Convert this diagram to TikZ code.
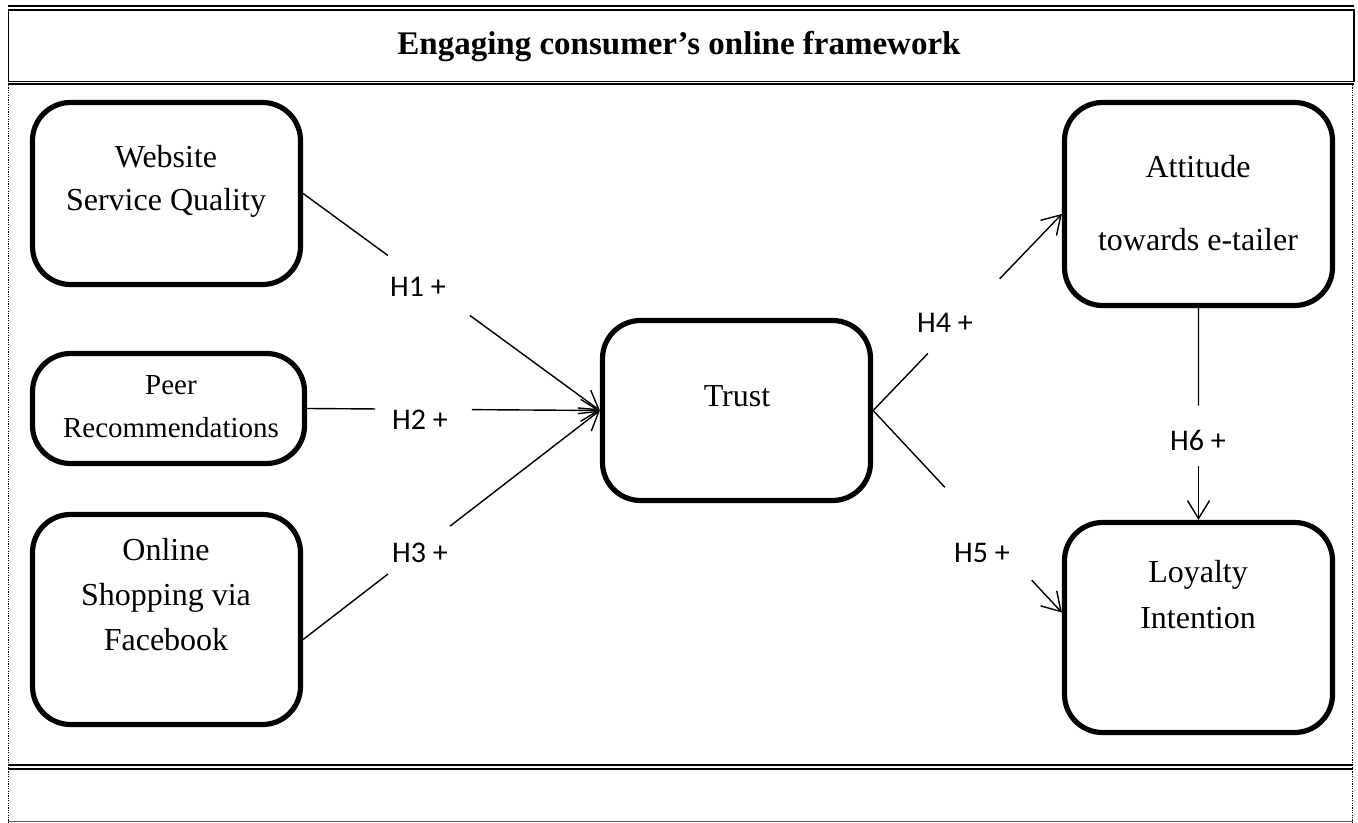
\documentclass[tikz,border=0pt]{standalone}
\usepackage{fontspec}
\setmainfont{Liberation Serif}
\newfontfamily\labelfont{Carlito}
\usetikzlibrary{arrows.meta,calc}

\begin{document}
\begin{tikzpicture}[x=0.5pt,y=-0.5pt,
  box/.style={draw, line width=2.6pt, rounded corners=19pt, minimum width=134pt, inner sep=0pt},
  boxtext/.style={align=center, inner sep=0pt, font=\fontsize{16}{21.5}\selectfont},
  hyp/.style={inner sep=1pt, font=\labelfont\fontsize{15}{18}\selectfont},
  conn/.style={line width=0.7pt},
  tip/.style={conn, -{Straight Barb[length=9pt,width=11pt]}},
  rule/.style={line width=1pt},
  dotline/.style={line width=0.8pt, dash pattern=on 0.6pt off 0.6pt},
]
\useasboundingbox (0,0) rectangle (1358,823);

% outer frame
\draw[rule] (8,6.5) -- (1354,6.5);
\draw[line width=0.9pt] (8.5,10) rectangle (1354,81.5);
\draw[rule] (8,84.5) -- (1354,84.5);
\draw[dotline] (8.5,85) -- (8.5,822);
\draw[dotline] (1352.5,85) -- (1352.5,822);
\draw[rule] (8,765) -- (1353,765);
\draw[rule] (8,768.5) -- (1353,768.5);
\draw[line width=0.6pt, black!65] (8,821.5) -- (1353,821.5);

\node[inner sep=0pt, font=\bfseries\fontsize{16.5}{20}\selectfont] (title) at (679,47) {Engaging consumer’s online framework};

% construct boxes
\node[box, minimum height=91pt] (web) at (166.5,193.5) {};
\node[box, minimum width=136pt, minimum height=55pt] (peer) at (168.5,408.5) {};
\node[box, minimum height=105pt] (fb) at (166.5,619.5) {};
\node[box, minimum height=90pt] (trust) at (736.5,410.5) {};
\node[box, minimum height=101.5pt] (att) at (1198.5,204) {};
\node[box, minimum height=105pt] (loy) at (1198.5,627.5) {};

% box captions
\node[boxtext] (webtxt) at (166,181.5) {Website\\Service Quality};
\node[boxtext, font=\fontsize{14.5}{21.5}\selectfont] (peertxt) at (171,406.5) {Peer\\Recommendations};
\node[boxtext, font=\fontsize{16}{22.5}\selectfont] (fbtxt) at (166,595) {Online\\Shopping via\\Facebook};
\node[boxtext] (trusttxt) at (737,396) {Trust};
\node[boxtext, font=\fontsize{16}{36.5}\selectfont] (atttxt) at (1198,203.5) {Attitude\\towards e-tailer};
\node[boxtext, font=\fontsize{16}{23}\selectfont] (loytxt) at (1198,595) {Loyalty\\Intention};

% hypothesis labels
\node[hyp] (h1) at (418,287) {H1 +};
\node[hyp] (h2) at (420,420) {H2 +};
\node[hyp] (h3) at (420,553) {H3 +};
\node[hyp] (h4) at (945,323) {H4 +};
\node[hyp] (h5) at (982,553) {H5 +};
\node[hyp] (h6) at (1198,440) {H6 +};

% connector end points
\coordinate (fbout) at ([yshift=-10pt]fb.east);
\coordinate (attin) at ([yshift=-5pt]att.west);
\coordinate (loyin) at ([yshift=7.5pt]loy.west);

% H1
\draw[conn] (web.east) -- ($(web.east)!0.286!(trust.west)$);
\draw[tip] ($(web.east)!0.562!(trust.west)$) -- (trust.west);
% H2
\draw[conn] (peer.east) -- ($(peer.east)!0.232!(trust.west)$);
\draw[tip] ($(peer.east)!0.563!(trust.west)$) -- (trust.west);
% H3
\draw[conn] (fbout) -- ($(fbout)!0.286!(trust.west)$);
\draw[tip] ($(fbout)!0.495!(trust.west)$) -- (trust.west);
% H4
\draw[conn] (trust.east) -- ($(trust.east)!0.29!(attin)$);
\draw[tip] ($(trust.east)!0.67!(attin)$) -- (attin);
% H5
\draw[conn] (trust.east) -- ($(trust.east)!0.38!(loyin)$);
\draw[tip] ($(trust.east)!0.84!(loyin)$) -- (loyin);
% H6
\draw[conn] (att.south) -- ($(att.south)!0.46!(loy.north)$);
\draw[tip] ($(att.south)!0.745!(loy.north)$) -- (loy.north);
\end{tikzpicture}
\end{document}
